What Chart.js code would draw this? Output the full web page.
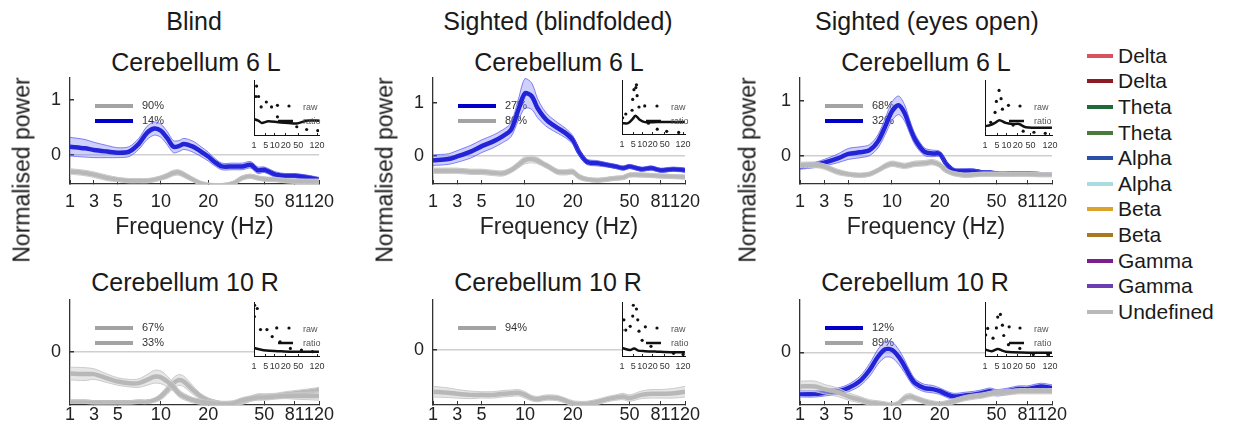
<!DOCTYPE html>
<html>
<head>
<meta charset="utf-8">
<script src="https://cdn.jsdelivr.net/npm/chart.js@4.4.1/dist/chart.umd.min.js"></script>
<style>
  body { margin: 0; width: 1234px; height: 434px; background: #fff; position: relative; overflow: hidden;
         font-family: "Liberation Sans", Arial, sans-serif; color: #1a1a1a; }
  canvas { position: absolute; }
  .t { position: absolute; font-size: 25px; transform: translate(-50%, -50%); white-space: nowrap; }
  .yl { position: absolute; font-size: 23px; white-space: nowrap; transform: translate(-50%, -50%) rotate(-90deg); }
  #leg { position: absolute; left: 1087px; top: 43px; }
  .li { height: 25.6px; display: flex; align-items: center; font-size: 21px; }
  .li span { display: inline-block; width: 26px; height: 4px; margin-right: 5px; }
</style>
</head>
<body>
<div class="t" style="left:194px;top:21px">Blind</div>
<div class="t" style="left:558px;top:21px">Sighted (blindfolded)</div>
<div class="t" style="left:927px;top:21px">Sighted (eyes open)</div>
<div class="t" style="left:196px;top:62px">Cerebellum 6 L</div>
<div class="t" style="left:559px;top:62px">Cerebellum 6 L</div>
<div class="t" style="left:926px;top:62px">Cerebellum 6 L</div>
<div class="t" style="left:185px;top:282px">Cerebellum 10 R</div>
<div class="t" style="left:548px;top:282px">Cerebellum 10 R</div>
<div class="t" style="left:915px;top:282px">Cerebellum 10 R</div>
<div id="leg"></div>

<script>
// frequency bins (Hz) and axis ticks
const FREQ = [1,2,3,4,5,6,7,8,9,10,11,12,13,14,16,18,20,22,25,30,35,40,45,50,60,70,81,100,120];
const X_TICKS = [1,3,5,10,20,50,81,120];
const INSET_TICKS = [1,5,10,20,50,120];

// normalised power, mean and sem per cluster
const P1_BLUE = [0.15,0.12,0.09,0.06,0.04,0.06,0.2,0.4,0.48,0.44,0.3,0.15,0.16,0.2,0.15,0.06,-0.03,-0.12,-0.21,-0.21,-0.21,-0.18,-0.28,-0.27,-0.36,-0.38,-0.38,-0.41,-0.45];
const P1_BLUE_SEM = [0.17,0.16,0.14,0.11,0.09,0.09,0.1,0.12,0.12,0.12,0.12,0.11,0.1,0.1,0.1,0.09,0.08,0.07,0.06,0.06,0.06,0.06,0.06,0.05,0.05,0.04,0.04,0.04,0.04];
const P1_GREY = [-0.3,-0.33,-0.36,-0.42,-0.45,-0.47,-0.47,-0.47,-0.45,-0.42,-0.38,-0.33,-0.32,-0.36,-0.45,-0.52,-0.55,-0.56,-0.56,-0.52,-0.42,-0.39,-0.42,-0.44,-0.45,-0.47,-0.48,-0.48,-0.48];
const P1_GREY_SEM = [0.05,0.05,0.05,0.05,0.04,0.04,0.04,0.04,0.04,0.04,0.05,0.05,0.05,0.05,0.04,0.04,0.04,0.04,0.04,0.04,0.04,0.04,0.04,0.04,0.04,0.04,0.04,0.04,0.04];

const P2_BLUE = [-0.08,-0.06,-0.01,0.08,0.18,0.27,0.37,0.49,0.87,1.18,1.13,0.9,0.75,0.65,0.53,0.43,0.3,0.08,-0.11,-0.14,-0.17,-0.2,-0.23,-0.2,-0.25,-0.23,-0.27,-0.25,-0.27];
const P2_BLUE_SEM = [0.1,0.1,0.11,0.12,0.12,0.12,0.12,0.13,0.2,0.28,0.25,0.18,0.14,0.12,0.1,0.09,0.08,0.06,0.05,0.05,0.04,0.04,0.04,0.04,0.04,0.04,0.04,0.04,0.04];
const P2_GREY = [-0.28,-0.28,-0.28,-0.3,-0.3,-0.32,-0.33,-0.27,-0.17,-0.08,-0.06,-0.09,-0.15,-0.2,-0.3,-0.31,-0.3,-0.39,-0.44,-0.46,-0.44,-0.42,-0.41,-0.36,-0.36,-0.37,-0.38,-0.39,-0.4];
const P2_GREY_SEM = [0.05,0.05,0.05,0.05,0.05,0.05,0.05,0.05,0.06,0.07,0.07,0.06,0.05,0.05,0.05,0.05,0.05,0.05,0.04,0.04,0.04,0.04,0.04,0.04,0.04,0.04,0.04,0.04,0.04];

const P3_BLUE = [-0.2,-0.17,-0.13,-0.05,0.03,0.06,0.1,0.26,0.54,0.81,0.92,0.78,0.51,0.29,0.07,0.04,0.03,-0.14,-0.27,-0.28,-0.28,-0.31,-0.31,-0.33,-0.33,-0.33,-0.33,-0.34,-0.35];
const P3_BLUE_SEM = [0.05,0.05,0.06,0.08,0.1,0.1,0.1,0.12,0.15,0.17,0.17,0.15,0.12,0.1,0.07,0.06,0.05,0.05,0.04,0.04,0.03,0.03,0.03,0.03,0.03,0.03,0.03,0.03,0.03];
const P3_GREY = [-0.17,-0.17,-0.2,-0.3,-0.34,-0.36,-0.34,-0.27,-0.19,-0.15,-0.17,-0.19,-0.17,-0.15,-0.14,-0.12,-0.17,-0.27,-0.33,-0.36,-0.35,-0.34,-0.34,-0.34,-0.34,-0.34,-0.34,-0.35,-0.35];
const P3_GREY_SEM = [0.05,0.05,0.05,0.05,0.04,0.04,0.04,0.04,0.05,0.05,0.05,0.05,0.05,0.05,0.05,0.05,0.05,0.04,0.04,0.04,0.04,0.04,0.04,0.04,0.04,0.04,0.04,0.04,0.04];

const P4_GREY_A = [-0.41,-0.42,-0.42,-0.5,-0.56,-0.59,-0.59,-0.53,-0.47,-0.48,-0.56,-0.66,-0.78,-0.84,-0.91,-0.94,-0.96,-0.97,-0.98,-0.97,-0.91,-0.88,-0.86,-0.86,-0.84,-0.83,-0.83,-0.83,-0.83];
const P4_GREY_A_SEM = [0.12,0.12,0.1,0.08,0.07,0.07,0.08,0.1,0.12,0.12,0.1,0.08,0.07,0.06,0.05,0.05,0.05,0.05,0.05,0.05,0.05,0.05,0.05,0.05,0.05,0.05,0.06,0.07,0.08];
const P4_GREY_B = [-0.94,-0.94,-0.95,-0.95,-0.95,-0.95,-0.94,-0.94,-0.91,-0.84,-0.72,-0.59,-0.53,-0.56,-0.72,-0.84,-0.91,-0.94,-0.97,-0.97,-0.94,-0.88,-0.84,-0.84,-0.83,-0.8,-0.78,-0.75,-0.72];
const P4_GREY_B_SEM = [0.03,0.03,0.03,0.03,0.03,0.03,0.03,0.03,0.04,0.06,0.08,0.1,0.1,0.1,0.08,0.05,0.04,0.03,0.03,0.04,0.05,0.05,0.05,0.05,0.05,0.05,0.05,0.05,0.05];

const P5_GREY = [-0.78,-0.8,-0.82,-0.84,-0.84,-0.84,-0.82,-0.81,-0.8,-0.84,-0.9,-0.92,-0.9,-0.89,-0.9,-0.95,-1.0,-1.01,-1.01,-0.97,-0.92,-0.89,-0.87,-0.9,-0.84,-0.82,-0.82,-0.81,-0.78];
const P5_GREY_SEM = [0.1,0.09,0.08,0.07,0.06,0.06,0.06,0.06,0.06,0.06,0.05,0.05,0.05,0.05,0.05,0.05,0.05,0.05,0.05,0.05,0.05,0.05,0.06,0.06,0.07,0.08,0.08,0.09,0.1];

const P6_BLUE = [-0.78,-0.78,-0.76,-0.73,-0.67,-0.54,-0.33,-0.08,0.06,0.05,-0.08,-0.26,-0.45,-0.58,-0.67,-0.69,-0.73,-0.78,-0.83,-0.81,-0.79,-0.76,-0.73,-0.76,-0.73,-0.69,-0.69,-0.64,-0.67];
const P6_BLUE_SEM = [0.06,0.06,0.06,0.06,0.07,0.09,0.12,0.14,0.15,0.15,0.14,0.12,0.1,0.08,0.07,0.07,0.06,0.06,0.06,0.06,0.06,0.06,0.06,0.06,0.06,0.06,0.06,0.06,0.06];
const P6_GREY = [-0.64,-0.64,-0.69,-0.75,-0.83,-0.89,-0.94,-0.96,-0.98,-1.0,-0.96,-0.86,-0.83,-0.86,-0.92,-0.96,-0.98,-0.96,-0.92,-0.86,-0.83,-0.81,-0.78,-0.76,-0.75,-0.73,-0.73,-0.73,-0.73];
const P6_GREY_SEM = [0.1,0.1,0.09,0.08,0.07,0.06,0.05,0.05,0.05,0.05,0.05,0.06,0.06,0.05,0.05,0.05,0.05,0.05,0.05,0.05,0.05,0.05,0.05,0.05,0.05,0.05,0.05,0.05,0.05];

// inset data: raw dots and ratio line
const P1_RAW_F = [1.43,1.31,1.87,2.67,5.25,7.8,11.8,11.8,45,74,124];
const P1_RAW_V = [0.89,0.7,0.7,0.51,0.6,0.51,0.54,0.33,0.15,0.1,0.08];
const P1_RATIO_F = [1,1.82,2.87,6.1,12.5,24.2,44.5,74,131];
const P1_RATIO_V = [0.29,0.26,0.22,0.25,0.23,0.22,0.21,0.26,0.26];
const P2_RAW_F = [1.09,1.71,4.18,4.57,5.25,6.1,6.4,6.73,7.8,11.8,15,28,54.6,97];
const P2_RAW_V = [0.3,0.37,0.44,0.64,0.82,0.86,0.91,0.71,0.5,0.52,0.2,0.09,0.05,0.03];
const P2_RATIO_F = [1,2.36,4.57,5.95,8,12,27.4,67.7,131];
const P2_RATIO_V = [0.2,0.2,0.28,0.34,0.27,0.22,0.22,0.22,0.22];
const P3_RAW_F = [2.14,3.82,4.57,5.8,6.73,7.43,11.3,15,29.4,58.2,97];
const P3_RAW_V = [0.23,0.41,0.61,0.81,0.66,0.47,0.54,0.18,0.07,0.05,0.03];
const P3_RATIO_F = [1,2.04,3.82,5.98,9.47,14.7,21.9,35.6,131];
const P3_RATIO_V = [0.16,0.18,0.22,0.27,0.22,0.2,0.2,0.14,0.13];
const P4_RAW_F = [1.09,1.56,1.05,2.45,5.5,8.2,11.3,13.9,28,58.2,97];
const P4_RAW_V = [0.94,0.88,0.73,0.49,0.49,0.36,0.52,0.26,0.14,0.11,0.08];
const P4_RATIO_F = [1,1.73,5.3,12,27.4,67.7,131];
const P4_RATIO_V = [0.15,0.13,0.1,0.09,0.08,0.08,0.08];
const P5_RAW_F = [1.31,1,1.71,3.2,4.57,5,6.4,7.07,7.8,12.3,10,17.7,76,120];
const P5_RAW_V = [0.67,0.48,0.48,0.55,0.74,0.94,0.87,0.67,0.46,0.54,0.29,0.18,0.05,0.03];
const P5_RATIO_F = [1,3.2,5.3,7.34,12,27.4,67.7,131];
const P5_RATIO_V = [0.15,0.11,0.14,0.1,0.09,0.08,0.07,0.07];
const P6_RAW_F = [1.09,1.43,2.92,4.57,5.25,6.4,7.43,8.2,11.8,11.3,23.1,56.4,109];
const P6_RAW_V = [0.39,0.51,0.33,0.52,0.72,0.77,0.57,0.38,0.54,0.21,0.14,0.03,0.03];
const P6_RATIO_F = [1,2.36,5.3,7.34,9.47,14.7,44,131];
const P6_RATIO_V = [0.12,0.09,0.13,0.1,0.08,0.07,0.06,0.06];

// band legend on the right
const BANDS = ['Delta','Delta','Theta','Theta','Alpha','Alpha','Beta','Beta','Gamma','Gamma','Undefined'];
const BAND_COLORS = ['#d9535f','#8c1c24','#1f6a36','#4b7a3a','#2b4fa6','#a9dbe0','#dba42c','#a9781f','#7a1f8d','#6b3fb2','#b9b9b9'];

const STYLE = {
  blue: { line: '#0000c8', fill: 'rgba(110,110,250,0.32)', edge: 'rgba(90,90,240,0.75)' },
  grey: { line: '#a3a3a3', fill: 'rgba(205,205,205,0.5)', edge: 'rgba(200,200,200,0.95)' }
};

// frequency axes: log-like spacing between the labelled ticks
const MAIN_P = [0, 0.096, 0.192, 0.365, 0.555, 0.78, 0.903, 1];
const INSET_P = [0, 0.18, 0.32, 0.49, 0.68, 0.97];
function warp(f, F, P) {
  if (f <= F[0]) return 0;
  const n = F.length - 1;
  for (let i = 0; i < n; i++) {
    if (f <= F[i + 1] || i === n - 1) {
      const t = Math.log(f / F[i]) / Math.log(F[i + 1] / F[i]);
      return P[i] + t * (P[i + 1] - P[i]);
    }
  }
}
function unwarp(p, F, P) {
  const n = F.length - 1;
  for (let i = 0; i < n; i++) {
    if (p <= P[i + 1] || i === n - 1) {
      const t = (p - P[i]) / (P[i + 1] - P[i]);
      return F[i] * Math.pow(F[i + 1] / F[i], t);
    }
  }
}
class WarpScale extends Chart.LinearScale {
  static id = 'warp';
  getPixelForValue(v) { return this.getPixelForDecimal(warp(v, X_TICKS, MAIN_P)); }
  getValueForPixel(px) { return unwarp(this.getDecimalForPixel(px), X_TICKS, MAIN_P); }
}
class InsetWarpScale extends Chart.LinearScale {
  static id = 'insetWarp';
  getPixelForValue(v) { return this.getPixelForDecimal(warp(v, INSET_TICKS, INSET_P)); }
  getValueForPixel(px) { return unwarp(this.getDecimalForPixel(px), INSET_TICKS, INSET_P); }
}
Chart.register(WarpScale, InsetWarpScale);

Chart.defaults.font.family = '"Liberation Sans", Arial, sans-serif';
Chart.defaults.color = '#222';

const panelLegend = {
  id: 'panelLegend',
  beforeDatasetsDraw(chart, args, opts) {
    if (!opts.items) return;
    const { ctx, chartArea: a } = chart;
    ctx.save();
    opts.items.forEach((it, i) => {
      const y = a.top + opts.rows[i];
      ctx.strokeStyle = it.color;
      ctx.lineWidth = 4;
      ctx.beginPath(); ctx.moveTo(a.left + 25, y); ctx.lineTo(a.left + 63, y); ctx.stroke();
      ctx.fillStyle = '#333';
      ctx.font = '11px "Liberation Sans", Arial';
      ctx.textBaseline = 'middle';
      ctx.fillText(it.label, a.left + 72, y);
    });
    ctx.restore();
  }
};
const insetDeco = {
  id: 'insetDeco',
  beforeDraw(chart, args, opts) {
    if (!opts.on) return;
    const { ctx, chartArea: a } = chart;
    ctx.save();
    ctx.fillStyle = '#fff';
    ctx.fillRect(a.left, a.top, a.right - a.left, a.bottom - a.top);
    ctx.restore();
  },
  afterDatasetsDraw(chart, args, opts) {
    if (!opts.on) return;
    const { ctx, chartArea: a } = chart;
    ctx.save();
    ctx.fillStyle = '#111';
    ctx.beginPath(); ctx.arc(a.left + 35, a.top + 26, 1.6, 0, Math.PI * 2); ctx.fill();
    ctx.strokeStyle = '#111'; ctx.lineWidth = 2.5;
    ctx.beginPath(); ctx.moveTo(a.left + 24, a.top + 41); ctx.lineTo(a.left + 39, a.top + 41); ctx.stroke();
    ctx.fillStyle = '#555';
    ctx.font = '9px "Liberation Sans", Arial';
    ctx.textBaseline = 'middle';
    ctx.fillText('raw', a.left + 49, a.top + 28);
    ctx.fillText('ratio', a.left + 49, a.top + 42);
    ctx.restore();
  }
};
Chart.register(panelLegend, insetDeco);

const PANELS = [
  { box: [70, 78, 319, 184], y: [-0.53, 1.4], yt: [0, 1], xTitle: true, lblPad: 11, ylab: [22, 170],
    series: [{ v: P1_GREY, e: P1_GREY_SEM, c: 'grey' }, { v: P1_BLUE, e: P1_BLUE_SEM, c: 'blue' }],
    legend: [{ c: 'grey', label: '90%' }, { c: 'blue', label: '14%' }],
    inset: { box: [254, 78, 319, 135], rf: P1_RAW_F, rv: P1_RAW_V, qf: P1_RATIO_F, qv: P1_RATIO_V } },
  { box: [433, 78, 685, 184], y: [-0.53, 1.47], yt: [0, 1], xTitle: true, lblPad: 11, ylab: [385, 170],
    series: [{ v: P2_GREY, e: P2_GREY_SEM, c: 'grey' }, { v: P2_BLUE, e: P2_BLUE_SEM, c: 'blue' }],
    legend: [{ c: 'blue', label: '27%' }, { c: 'grey', label: '80%' }],
    inset: { box: [622, 78, 685, 134], rf: P2_RAW_F, rv: P2_RAW_V, qf: P2_RATIO_F, qv: P2_RATIO_V } },
  { box: [800, 78, 1052, 184], y: [-0.52, 1.42], yt: [0, 1], xTitle: true, lblPad: 11, ylab: [748, 170],
    series: [{ v: P3_GREY, e: P3_GREY_SEM, c: 'grey' }, { v: P3_BLUE, e: P3_BLUE_SEM, c: 'blue' }],
    legend: [{ c: 'grey', label: '68%' }, { c: 'blue', label: '32%' }],
    inset: { box: [985, 78, 1052, 135], rf: P3_RAW_F, rv: P3_RAW_V, qf: P3_RATIO_F, qv: P3_RATIO_V } },
  { box: [70, 300, 319, 405], y: [-1.0, 0.97], yt: [0], xTitle: false, lblPad: 3,
    series: [{ v: P4_GREY_A, e: P4_GREY_A_SEM, c: 'grey' }, { v: P4_GREY_B, e: P4_GREY_B_SEM, c: 'grey' }],
    legend: [{ c: 'grey', label: '67%' }, { c: 'grey', label: '33%' }],
    inset: { box: [254, 300, 319, 356], rf: P4_RAW_F, rv: P4_RAW_V, qf: P4_RATIO_F, qv: P4_RATIO_V } },
  { box: [433, 300, 685, 405], y: [-1.03, 0.94], yt: [0], xTitle: false, lblPad: 3,
    series: [{ v: P5_GREY, e: P5_GREY_SEM, c: 'grey' }],
    legend: [{ c: 'grey', label: '94%' }],
    inset: { box: [622, 300, 685, 356], rf: P5_RAW_F, rv: P5_RAW_V, qf: P5_RATIO_F, qv: P5_RATIO_V } },
  { box: [800, 300, 1052, 405], y: [-0.99, 0.99], yt: [0], xTitle: false, lblPad: 3,
    series: [{ v: P6_GREY, e: P6_GREY_SEM, c: 'grey' }, { v: P6_BLUE, e: P6_BLUE_SEM, c: 'blue' }],
    legend: [{ c: 'blue', label: '12%' }, { c: 'grey', label: '89%' }],
    inset: { box: [985, 300, 1052, 356], rf: P6_RAW_F, rv: P6_RAW_V, qf: P6_RATIO_F, qv: P6_RATIO_V } }
];

function addCanvas(left, top, w, h) {
  const c = document.createElement('canvas');
  c.width = w; c.height = h;
  c.style.left = left + 'px'; c.style.top = top + 'px';
  c.style.width = w + 'px'; c.style.height = h + 'px';
  document.body.appendChild(c);
  return c;
}

const Y_W = 50, PAD_T = 6, PAD_R = 22;

PANELS.forEach(p => {
  const [L, T, R, B] = p.box;
  const xH = p.xTitle ? 57 : 30;
  const cv = addCanvas(L - Y_W, T - PAD_T, Y_W + (R - L) + PAD_R, PAD_T + (B - T) + xH);

  const datasets = [];
  p.series.forEach(s => {
    const st = STYLE[s.c];
    datasets.push({ data: FREQ.map((f, i) => ({ x: f, y: s.v[i] + s.e[i] })), borderColor: st.edge, borderWidth: 1,
      backgroundColor: st.fill, fill: '+1', pointRadius: 0, tension: 0.3 });
    datasets.push({ data: FREQ.map((f, i) => ({ x: f, y: s.v[i] - s.e[i] })), borderColor: st.edge, borderWidth: 1,
      fill: false, pointRadius: 0, tension: 0.3 });
    datasets.push({ data: FREQ.map((f, i) => ({ x: f, y: s.v[i] })), borderColor: st.line, borderWidth: 4.5,
      fill: false, pointRadius: 0, tension: 0.3 });
  });

  new Chart(cv, {
    type: 'line',
    data: { datasets },
    options: {
      animation: false, responsive: false, maintainAspectRatio: false,
      layout: { padding: { left: 0, top: PAD_T, right: PAD_R, bottom: 0 } },
      plugins: {
        legend: { display: false }, tooltip: { enabled: false },
        panelLegend: { items: p.legend.map(l => ({ color: STYLE[l.c].line, label: l.label })), rows: [28, 43] }
      },
      scales: {
        x: {
          type: 'warp', min: 1, max: 120,
          afterBuildTicks: s => { s.ticks = X_TICKS.map(v => ({ value: v })); },
          afterFit: s => { s.height = xH; s.paddingLeft = 0; s.paddingRight = 0; },
          grid: { drawOnChartArea: false, tickLength: -4, tickColor: '#333', color: 'rgba(0,0,0,0)' },
          border: { color: '#333', width: 1.3 },
          ticks: { font: { size: 18 }, color: '#222', padding: p.lblPad, maxRotation: 0, autoSkip: false },
          title: { display: p.xTitle, text: 'Frequency (Hz)', font: { size: 23 }, color: '#222', padding: 0 }
        },
        y: {
          min: p.y[0], max: p.y[1],
          afterBuildTicks: s => { s.ticks = p.yt.map(v => ({ value: v })); },
          afterFit: s => { s.width = Y_W; s.paddingTop = 0; s.paddingBottom = 0; },
          grid: { color: c => (c.tick && c.tick.value === 0 ? '#cfcfcf' : 'rgba(0,0,0,0)'), lineWidth: 1.5,
                  tickLength: -4, tickColor: '#333' },
          border: { color: '#333', width: 1.3 },
          ticks: { font: { size: 18 }, color: '#222', padding: 13 }
        }
      }
    }
  });

  // inset: raw power and ratio
  const [iL, iT, iR, iB] = p.inset.box;
  const icv = addCanvas(iL - 6, iT - 2, 6 + (iR - iL) + 14, 2 + (iB - iT) + 20);
  new Chart(icv, {
    type: 'line',
    data: {
      datasets: [
        { data: p.inset.rf.map((f, i) => ({ x: f, y: p.inset.rv[i] })), showLine: false, pointRadius: 1.6,
          pointBackgroundColor: '#111', pointBorderWidth: 0 },
        { data: p.inset.qf.map((f, i) => ({ x: f, y: p.inset.qv[i] })), borderColor: '#111', borderWidth: 2.5,
          pointRadius: 0, tension: 0.3, fill: false }
      ]
    },
    options: {
      animation: false, responsive: false, maintainAspectRatio: false,
      layout: { padding: { left: 6, top: 2, right: 14, bottom: 0 } },
      plugins: { legend: { display: false }, tooltip: { enabled: false }, insetDeco: { on: true } },
      scales: {
        x: {
          type: 'insetWarp', min: 1, max: 131,
          afterBuildTicks: s => { s.ticks = INSET_TICKS.map(v => ({ value: v })); },
          afterFit: s => { s.height = 20; s.paddingLeft = 0; s.paddingRight = 0; },
          grid: { drawOnChartArea: false, tickLength: -2, tickColor: '#222', color: 'rgba(0,0,0,0)' },
          border: { color: '#111', width: 1 },
          ticks: { font: { size: 9 }, color: '#333', padding: 7, maxRotation: 0, autoSkip: false }
        },
        y: {
          min: 0, max: 1,
          afterFit: s => { s.width = 0; s.paddingTop = 0; s.paddingBottom = 0; },
          ticks: { display: false },
          grid: { drawTicks: false, color: 'rgba(0,0,0,0)' },
          border: { color: '#111', width: 1 }
        }
      }
    }
  });

  if (p.ylab) {
    const d = document.createElement('div');
    d.className = 'yl';
    d.textContent = 'Normalised power';
    d.style.left = p.ylab[0] + 'px'; d.style.top = p.ylab[1] + 'px';
    document.body.appendChild(d);
  }
});

const leg = document.getElementById('leg');
BANDS.forEach((b, i) => {
  const row = document.createElement('div');
  row.className = 'li';
  row.innerHTML = '<span style="background:' + BAND_COLORS[i] + '"></span>' + b;
  leg.appendChild(row);
});
</script>
</body>
</html>
